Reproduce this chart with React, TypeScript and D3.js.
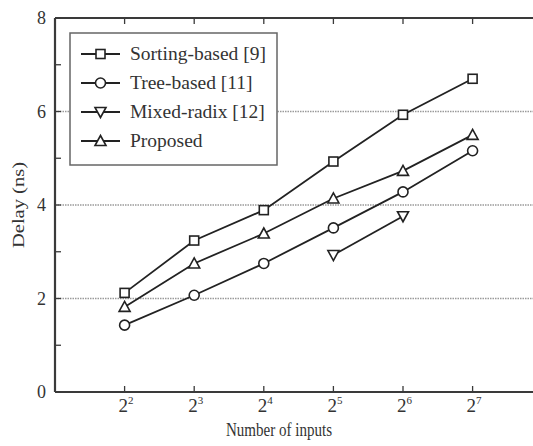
import React, { useEffect, useRef } from "react";
import * as d3 from "d3";

// x values are powers of two, stored as exponents
const exponents = [2, 3, 4, 5, 6, 7];
const sortingBased = [2.12, 3.24, 3.89, 4.93, 5.93, 6.7];
const treeBased = [1.43, 2.07, 2.75, 3.51, 4.28, 5.16];
const mixedExponents = [5, 6];
const mixedRadix = [2.93, 3.76];
const proposed = [1.82, 2.75, 3.39, 4.14, 4.73, 5.5];
const yMajorTicks = [0, 2, 4, 6, 8];
const yMinorTicks = [1, 3, 5, 7];
const gridTicks = [2, 4, 6];
const legendLabels = ["Sorting-based [9]", "Tree-based [11]", "Mixed-radix [12]", "Proposed"];

const App = () => {
  const svgRef = useRef<SVGSVGElement | null>(null);

  useEffect(() => {
    const width = 533;
    const height = 446;
    const left = 55;
    const top = 18;
    const bottom = 392;

    const x = d3.scaleLinear().domain([1, 8]).range([left, left + 7 * 69.6]);
    const y = d3.scaleLinear().domain([0, 8]).range([bottom, top]);
    const right = x(8);

    const svg = d3.select(svgRef.current);
    svg.selectAll("*").remove();
    svg.attr("width", width).attr("height", height);

    svg.append("rect").attr("width", width).attr("height", height).attr("fill", "#fff");

    // dotted grid
    svg
      .selectAll(".grid")
      .data(gridTicks)
      .enter()
      .append("line")
      .attr("x1", left)
      .attr("x2", right)
      .attr("y1", (d) => y(d))
      .attr("y2", (d) => y(d))
      .attr("stroke", "#9a9a9a")
      .attr("stroke-width", 1.5)
      .attr("stroke-dasharray", "1.5,1");

    // axes frame
    const axisColor = "#3a3a3a";
    svg.append("line").attr("x1", left).attr("x2", right).attr("y1", bottom).attr("y2", bottom)
      .attr("stroke", axisColor).attr("stroke-width", 2.2);
    svg.append("line").attr("x1", left).attr("x2", right).attr("y1", top).attr("y2", top)
      .attr("stroke", axisColor).attr("stroke-width", 2.2);
    svg.append("line").attr("x1", left).attr("x2", left).attr("y1", top).attr("y2", bottom)
      .attr("stroke", axisColor).attr("stroke-width", 2.2);

    // x ticks (inward, top and bottom)
    exponents.forEach((e) => {
      svg.append("line").attr("x1", x(e)).attr("x2", x(e)).attr("y1", bottom).attr("y2", bottom - 6)
        .attr("stroke", axisColor).attr("stroke-width", 1.3);
      svg.append("line").attr("x1", x(e)).attr("x2", x(e)).attr("y1", top).attr("y2", top + 6)
        .attr("stroke", axisColor).attr("stroke-width", 1.3);
      const t = svg.append("text")
        .attr("x", x(e) - 6)
        .attr("y", bottom + 20)
        .style("font-family", "Liberation Serif, Times New Roman, serif")
        .style("font-size", "19px")
        .style("fill", "#333");
      t.append("tspan").text("2");
      t.append("tspan").attr("dy", -8).style("font-size", "11px").text(String(e));
    });

    // y ticks (inward)
    [...yMajorTicks, ...yMinorTicks].forEach((v) => {
      svg.append("line").attr("x1", left).attr("x2", left + 6).attr("y1", y(v)).attr("y2", y(v))
        .attr("stroke", axisColor).attr("stroke-width", 1.3);
    });
    svg
      .selectAll(".ylab")
      .data(yMajorTicks)
      .enter()
      .append("text")
      .attr("x", left - 9)
      .attr("y", (d) => y(d) + 6)
      .attr("text-anchor", "end")
      .style("font-family", "Liberation Serif, Times New Roman, serif")
      .style("font-size", "18px")
      .style("fill", "#333")
      .text((d) => d);

    // axis labels
    svg.append("text")
      .attr("transform", `translate(24,205) rotate(-90)`)
      .attr("text-anchor", "middle")
      .attr("textLength", 86)
      .attr("lengthAdjust", "spacingAndGlyphs")
      .style("font-family", "Liberation Serif, Times New Roman, serif")
      .style("font-size", "17px")
      .style("fill", "#333")
      .text("Delay (ns)");
    svg.append("text")
      .attr("x", 279)
      .attr("y", 436)
      .attr("text-anchor", "middle")
      .attr("textLength", 106)
      .attr("lengthAdjust", "spacingAndGlyphs")
      .style("font-family", "Liberation Serif, Times New Roman, serif")
      .style("font-size", "18px")
      .style("fill", "#333")
      .text("Number of inputs");

    // markers
    const lineColor = "#222";
    const drawMarker = (g: any, kind: string, cx: number, cy: number) => {
      if (kind === "square") {
        g.append("rect").attr("x", cx - 4.5).attr("y", cy - 4.5).attr("width", 9).attr("height", 9)
          .attr("fill", "#fff").attr("stroke", lineColor).attr("stroke-width", 1.6);
      } else if (kind === "circle") {
        g.append("circle").attr("cx", cx).attr("cy", cy).attr("r", 5)
          .attr("fill", "#fff").attr("stroke", lineColor).attr("stroke-width", 1.6);
      } else if (kind === "down") {
        g.append("path").attr("d", `M${cx - 5.5},${cy - 4.5}L${cx + 5.5},${cy - 4.5}L${cx},${cy + 5.5}Z`)
          .attr("fill", "#fff").attr("stroke", lineColor).attr("stroke-width", 1.6);
      } else {
        g.append("path").attr("d", `M${cx - 5.5},${cy + 4.5}L${cx + 5.5},${cy + 4.5}L${cx},${cy - 5.5}Z`)
          .attr("fill", "#fff").attr("stroke", lineColor).attr("stroke-width", 1.6);
      }
    };

    const series = [
      { xs: exponents, ys: sortingBased, kind: "square" },
      { xs: exponents, ys: treeBased, kind: "circle" },
      { xs: mixedExponents, ys: mixedRadix, kind: "down" },
      { xs: exponents, ys: proposed, kind: "up" },
    ];

    const line = d3.line<[number, number]>().x((d) => x(d[0])).y((d) => y(d[1]));
    series.forEach((s) => {
      const pts: [number, number][] = s.xs.map((e, i) => [e, s.ys[i]]);
      svg.append("path").attr("d", line(pts)).attr("fill", "none")
        .attr("stroke", lineColor).attr("stroke-width", 1.8);
      pts.forEach((p) => drawMarker(svg, s.kind, x(p[0]), y(p[1])));
    });

    // legend
    const legend = svg.append("g");
    legend.append("rect").attr("x", 70).attr("y", 33).attr("width", 207).attr("height", 132)
      .attr("fill", "#fff").attr("stroke", "#666").attr("stroke-width", 1.5);
    series.forEach((s, i) => {
      const ly = 54 + i * 29;
      legend.append("line").attr("x1", 81).attr("x2", 120).attr("y1", ly).attr("y2", ly)
        .attr("stroke", lineColor).attr("stroke-width", 1.8);
      drawMarker(legend, s.kind, 100.5, ly);
      legend.append("text")
        .attr("x", 130)
        .attr("y", ly + 6)
        .style("font-family", "Liberation Serif, Times New Roman, serif")
        .style("font-size", "19.5px")
        .style("fill", "#333")
        .text(legendLabels[i]);
    });
  }, []);

  return (
    <div>
      <svg ref={svgRef} style={{ position: "absolute", left: 0, top: 0 }}></svg>
    </div>
  );
};

export default App;
